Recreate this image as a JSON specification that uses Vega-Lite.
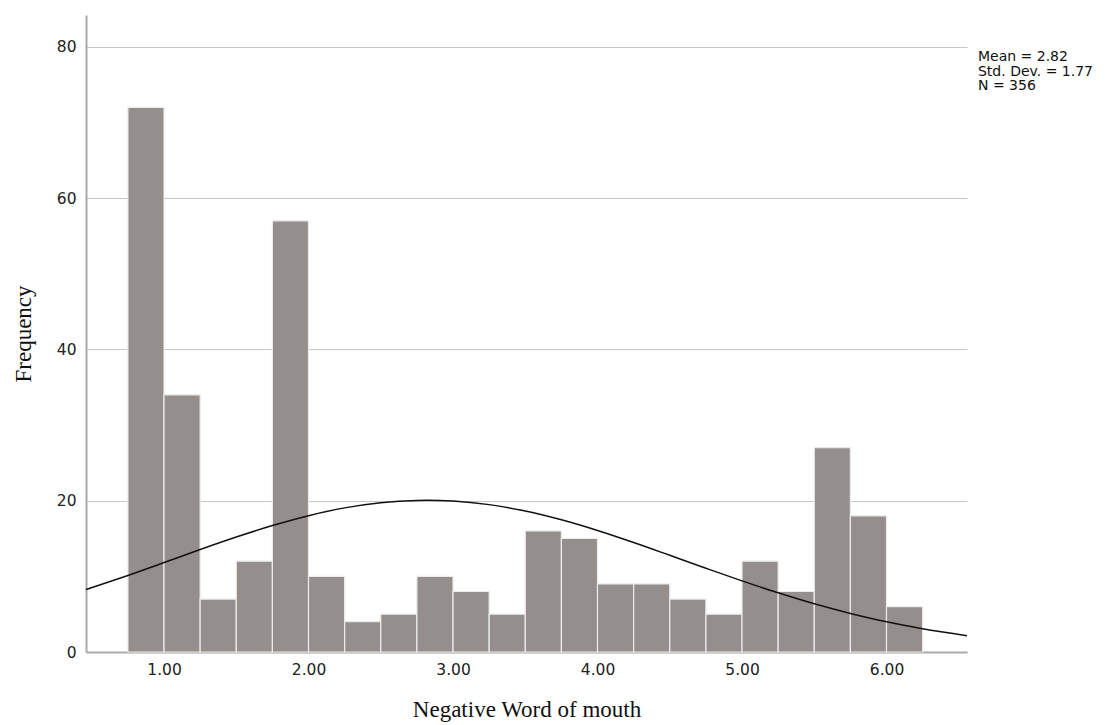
{
  "$schema": "https://vega.github.io/schema/vega-lite/v6.json",
  "autosize": "none",
  "width": 881,
  "height": 637,
  "padding": {"left": 86, "top": 15, "right": 145, "bottom": 73},
  "background": "white",
  "config": {
    "view": {"stroke": null},
    "axis": {
      "ticks": false,
      "domainColor": "#aaaaaa",
      "domainWidth": 2,
      "labelFont": "DejaVu Sans",
      "labelFontSize": 15.5,
      "labelColor": "#222222",
      "labelPadding": 10,
      "titleFont": "Liberation Serif",
      "titleFontSize": 23,
      "titleFontWeight": "normal",
      "titleColor": "#111111"
    }
  },
  "datasets": {
    "bins": [
      {"start": 0.75, "end": 1.0, "count": 72},
      {"start": 1.0, "end": 1.25, "count": 34},
      {"start": 1.25, "end": 1.5, "count": 7},
      {"start": 1.5, "end": 1.75, "count": 12},
      {"start": 1.75, "end": 2.0, "count": 57},
      {"start": 2.0, "end": 2.25, "count": 10},
      {"start": 2.25, "end": 2.5, "count": 4},
      {"start": 2.5, "end": 2.75, "count": 5},
      {"start": 2.75, "end": 3.0, "count": 10},
      {"start": 3.0, "end": 3.25, "count": 8},
      {"start": 3.25, "end": 3.5, "count": 5},
      {"start": 3.5, "end": 3.75, "count": 16},
      {"start": 3.75, "end": 4.0, "count": 15},
      {"start": 4.0, "end": 4.25, "count": 9},
      {"start": 4.25, "end": 4.5, "count": 9},
      {"start": 4.5, "end": 4.75, "count": 7},
      {"start": 4.75, "end": 5.0, "count": 5},
      {"start": 5.0, "end": 5.25, "count": 12},
      {"start": 5.25, "end": 5.5, "count": 8},
      {"start": 5.5, "end": 5.75, "count": 27},
      {"start": 5.75, "end": 6.0, "count": 18},
      {"start": 6.0, "end": 6.25, "count": 6}
    ],
    "curve": [
      {"x": 0.46, "y": 8.25},
      {"x": 0.75, "y": 10.12},
      {"x": 1.0, "y": 11.82},
      {"x": 1.25, "y": 13.54},
      {"x": 1.5, "y": 15.19},
      {"x": 1.75, "y": 16.71},
      {"x": 2.0, "y": 18.02},
      {"x": 2.25, "y": 19.05},
      {"x": 2.5, "y": 19.73},
      {"x": 2.75, "y": 20.04},
      {"x": 2.82, "y": 20.06},
      {"x": 3.0, "y": 19.96},
      {"x": 3.25, "y": 19.48},
      {"x": 3.5, "y": 18.63},
      {"x": 3.75, "y": 17.47},
      {"x": 4.0, "y": 16.06},
      {"x": 4.25, "y": 14.47},
      {"x": 4.5, "y": 12.78},
      {"x": 4.75, "y": 11.07},
      {"x": 5.0, "y": 9.4},
      {"x": 5.25, "y": 7.82},
      {"x": 5.5, "y": 6.37},
      {"x": 5.75, "y": 5.1},
      {"x": 6.0, "y": 3.99},
      {"x": 6.25, "y": 3.07},
      {"x": 6.557, "y": 2.16}
    ],
    "stats": [
      {"x": 6.633, "y": 78.15, "label": "Mean = 2.82"},
      {"x": 6.633, "y": 76.2, "label": "Std. Dev. = 1.77"},
      {"x": 6.633, "y": 74.25, "label": "N = 356"}
    ]
  },
  "layer": [
    {
      "data": {"name": "bins"},
      "mark": {"type": "rect", "fill": "#948f8d", "stroke": "#ececec", "strokeWidth": 1.2},
      "encoding": {
        "x": {
          "field": "start",
          "type": "quantitative",
          "scale": {"domain": [0.46, 6.557], "nice": false, "zero": false},
          "axis": {"values": [1, 2, 3, 4, 5, 6], "format": ".2f", "grid": false, "title": "Negative Word of mouth", "titlePadding": 21}
        },
        "x2": {"field": "end"},
        "y": {
          "field": "count",
          "type": "quantitative",
          "scale": {"domain": [0, 84.2], "nice": false},
          "axis": {"values": [0, 20, 40, 60, 80], "grid": true, "gridColor": "#c6c6c6", "gridWidth": 1, "title": "Frequency", "titlePadding": 21}
        },
        "y2": {"datum": 0}
      }
    },
    {
      "data": {"name": "curve"},
      "mark": {"type": "line", "color": "#111111", "strokeWidth": 1.5, "interpolate": "monotone"},
      "encoding": {
        "x": {"field": "x", "type": "quantitative"},
        "y": {"field": "y", "type": "quantitative"}
      }
    },
    {
      "data": {"name": "stats"},
      "mark": {"type": "text", "align": "left", "baseline": "alphabetic", "font": "DejaVu Sans", "fontSize": 14, "color": "#111111"},
      "encoding": {
        "x": {"field": "x", "type": "quantitative"},
        "y": {"field": "y", "type": "quantitative"},
        "text": {"field": "label"}
      }
    }
  ]
}
